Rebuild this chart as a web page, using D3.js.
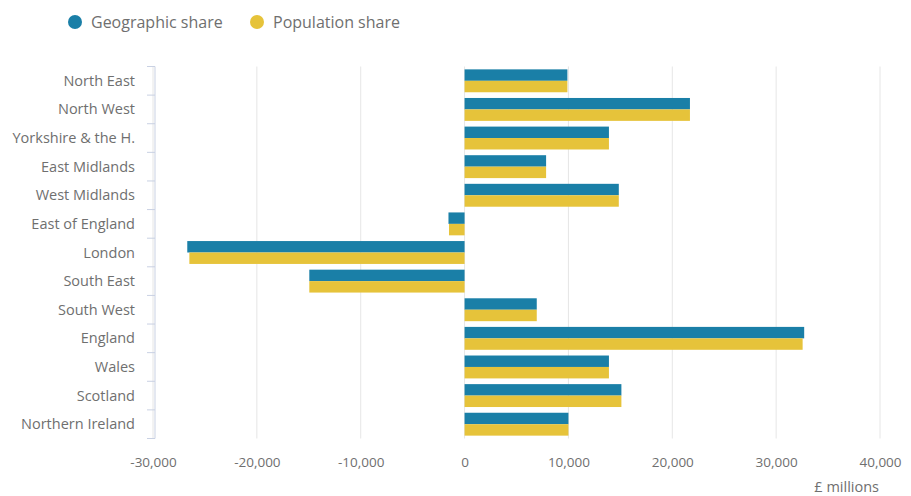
<!DOCTYPE html>
<html>
<head>
<meta charset="utf-8">
<script src="https://cdn.jsdelivr.net/npm/d3@7"></script>
<style>
  body { margin: 0; background: #fff; }
  svg { font-family: "Open Sans", sans-serif; }
</style>
</head>
<body>
<svg id="chart" width="911" height="496"></svg>
<script>
// data
const regions = ["North East", "North West", "Yorkshire & the H.", "East Midlands", "West Midlands",
  "East of England", "London", "South East", "South West", "England", "Wales", "Scotland", "Northern Ireland"];
const geographic = [9900, 21700, 13900, 7850, 14850, -1550, -26700, -14950, 6950, 32700, 13900, 15100, 10000];
const population = [9900, 21700, 13900, 7850, 14850, -1500, -26500, -14950, 6950, 32550, 13900, 15100, 10000];
const seriesNames = ["Geographic share", "Population share"];
const seriesColors = ["#1a7fa7", "#e6c33a"];
const xTicks = [-30000, -20000, -10000, 0, 10000, 20000, 30000, 40000];

const svg = d3.select("#chart");
const plotLeft = 155, plotTop = 66.5, plotBottom = 438.5;
const textColor = "#6f6f6f";

const x = d3.scaleLinear().domain([-30000, 40000]).range([153, 880]);
const y = d3.scaleBand().domain(regions).range([plotTop, plotBottom]).paddingInner(0.2).paddingOuter(0.1);
const ySub = d3.scaleBand().domain(seriesNames).range([0, y.bandwidth()]);

// grid lines
svg.append("g")
  .selectAll("line")
  .data(xTicks)
  .join("line")
  .attr("x1", d => x(d)).attr("x2", d => x(d))
  .attr("y1", plotTop).attr("y2", plotBottom)
  .attr("stroke", "#e6e6e6");

// bars
const rows = regions.map((r, i) => ({ name: r, vals: [geographic[i], population[i]] }));
const groups = svg.append("g").selectAll("g")
  .data(rows)
  .join("g")
  .attr("transform", d => `translate(0,${y(d.name)})`);
groups.selectAll("rect")
  .data(d => d.vals.map((v, j) => ({ v, s: seriesNames[j], c: seriesColors[j] })))
  .join("rect")
  .attr("x", d => x(Math.min(0, d.v)))
  .attr("width", d => Math.abs(x(d.v) - x(0)))
  .attr("y", d => ySub(d.s))
  .attr("height", ySub.bandwidth())
  .attr("fill", d => d.c);

// y axis: ticks between categories
const yAxisG = svg.append("g").attr("transform", `translate(${plotLeft},0)`);
yAxisG.append("line").attr("y1", plotTop).attr("y2", plotBottom).attr("stroke", "#c9d1e3");
const bounds = regions.map(r => y(r) - y.step() * y.paddingInner() / 2);
bounds.push(plotBottom);
yAxisG.selectAll("line.tk")
  .data(bounds)
  .join("line")
  .attr("class", "tk")
  .attr("x1", -8).attr("x2", 0)
  .attr("y1", d => d).attr("y2", d => d)
  .attr("stroke", "#c9d1e3");
yAxisG.selectAll("text")
  .data(regions)
  .join("text")
  .attr("x", -20)
  .attr("y", d => y(d) + y.bandwidth() / 2)
  .attr("dy", "0.35em")
  .attr("text-anchor", "end")
  .attr("font-size", 14.5)
  .attr("fill", textColor)
  .text(d => d);

// x axis
const fmt = d3.format(",");
const xAxis = d3.axisBottom(x).tickValues(xTicks).tickSize(0).tickPadding(0)
  .tickFormat(d => fmt(d).replace("\u2212", "-"));
const xAxisG = svg.append("g").attr("transform", `translate(0,${plotBottom + 28})`).call(xAxis);
xAxisG.select(".domain").remove();
xAxisG.selectAll("text").attr("font-size", 13.5).attr("fill", textColor)
  .attr("font-family", "Open Sans, sans-serif").attr("dy", 0);

svg.append("text")
  .attr("x", 879).attr("y", 492)
  .attr("text-anchor", "end")
  .attr("font-size", 14.5)
  .attr("fill", textColor)
  .text("£ millions");

// legend
const legend = svg.append("g").selectAll("g")
  .data(seriesNames)
  .join("g")
  .attr("transform", (d, i) => `translate(${[75, 257][i]},22)`);
legend.append("circle").attr("r", 7).attr("fill", (d, i) => seriesColors[i]);
legend.append("text")
  .attr("x", 16).attr("dy", "0.35em")
  .attr("font-size", 16)
  .attr("fill", textColor)
  .text(d => d);
</script>
</body>
</html>
